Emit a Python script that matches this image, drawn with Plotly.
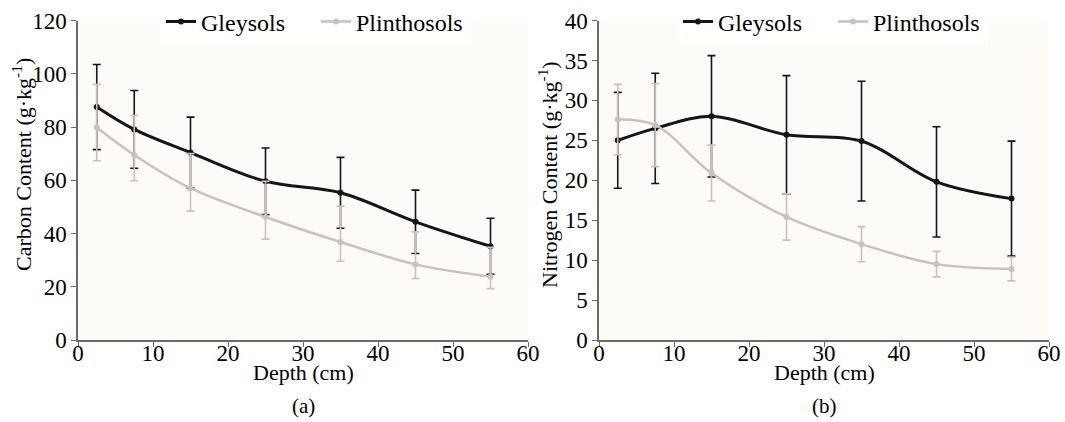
import plotly.graph_objects as go

# ---------------- data ----------------
depth = [2.5, 7.5, 15, 25, 35, 45, 55]

carbon_gleysols = [87.5, 79.1, 70.4, 59.6, 55.3, 44.4, 35.2]
carbon_gleysols_err = [16.0, 14.6, 13.3, 12.5, 13.3, 11.9, 10.5]
carbon_plinthosols = [79.8, 69.5, 57.0, 46.2, 36.8, 28.4, 23.8]
carbon_plinthosols_err_plus = [16.2, 14.8, 13.0, 13.4, 13.5, 12.2, 11.0]
carbon_plinthosols_err_minus = [12.5, 9.7, 8.6, 8.3, 7.2, 5.3, 4.5]

nitrogen_gleysols = [25.0, 26.5, 28.0, 25.7, 24.9, 19.8, 17.7]
nitrogen_gleysols_err = [6.0, 6.9, 7.6, 7.4, 7.5, 6.9, 7.2]
nitrogen_plinthosols = [27.6, 26.9, 20.9, 15.4, 12.0, 9.5, 8.9]
nitrogen_plinthosols_err = [4.4, 5.2, 3.5, 2.9, 2.2, 1.6, 1.5]

series_names = ["Gleysols", "Plinthosols"]
panel_labels = ["(a)", "(b)"]
x_title = "Depth (cm)"
y_titles = ["Carbon Content (g·kg<sup>-1</sup>)", "Nitrogen Content (g·kg<sup>-1</sup>)"]

# ---------------- style ----------------
W, H = 1065, 422
BLACK = "#151515"
GRAY = "#c9c1bc"
FONT = "Liberation Serif"
PLOT_BG = "#fcfbf8"
AXIS_COL = "#6b6b6b"

def px_x(p):
    return p / W

def px_y(p):
    return 1 - p / H

fig = go.Figure()

def add_series(x, y, err_plus, err_minus, name, color, lw, xa, ya, legend):
    fig.add_trace(go.Scatter(
        x=x, y=y, name=name, mode="lines+markers",
        line=dict(color=color, width=lw, shape="spline", smoothing=1.0),
        marker=dict(color=color, size=6, symbol="circle"),
        error_y=dict(type="data", symmetric=False, array=err_plus, arrayminus=err_minus,
                     color=color, thickness=1.6, width=4),
        xaxis=xa, yaxis=ya, legend=legend,
    ))

# panel (a)
add_series(depth, carbon_gleysols, carbon_gleysols_err, carbon_gleysols_err,
           series_names[0], BLACK, 3, "x", "y", "legend")
add_series(depth, carbon_plinthosols, carbon_plinthosols_err_plus, carbon_plinthosols_err_minus,
           series_names[1], GRAY, 2.5, "x", "y", "legend")
# panel (b)
add_series(depth, nitrogen_gleysols, nitrogen_gleysols_err, nitrogen_gleysols_err,
           series_names[0], BLACK, 3, "x2", "y2", "legend2")
add_series(depth, nitrogen_plinthosols, nitrogen_plinthosols_err, nitrogen_plinthosols_err,
           series_names[1], GRAY, 2.5, "x2", "y2", "legend2")

tickfont = dict(family=FONT, size=23, color="#000000")
common_x = dict(range=[0, 60], dtick=10, tick0=0, showgrid=False, zeroline=False,
                showline=True, linecolor=AXIS_COL, linewidth=1.5,
                ticks="outside", ticklen=5, tickcolor=AXIS_COL, tickwidth=1.2,
                tickfont=tickfont, fixedrange=True, automargin=False,
                ticklabelstandoff=-13)
common_y = dict(showgrid=False, zeroline=False, showline=True, linecolor=AXIS_COL,
                linewidth=1.5, ticks="outside", ticklen=5, tickcolor=AXIS_COL,
                tickwidth=1.2, tickfont=tickfont, fixedrange=True, automargin=False)

top = px_y(20.5)
bottom = px_y(340)

legend_common = dict(orientation="h", yanchor="middle", xanchor="center",
                     bgcolor="#ffffff", font=dict(family=FONT, size=24, color="#000000"),
                     itemwidth=30, tracegroupgap=0, borderwidth=0,
                     entrywidth=110, entrywidthmode="pixels")

fig.update_layout(
    width=W, height=H,
    margin=dict(l=0, r=0, t=0, b=0, autoexpand=False),
    paper_bgcolor="#ffffff",
    plot_bgcolor=PLOT_BG,
    font=dict(family=FONT, color="#000000"),
    xaxis=dict(domain=[px_x(78), px_x(528)], anchor="y", **common_x),
    yaxis=dict(domain=[bottom, top], anchor="x", range=[0, 120], dtick=20, **common_y),
    xaxis2=dict(domain=[px_x(599), px_x(1049)], anchor="y2", **common_x),
    yaxis2=dict(domain=[bottom, top], anchor="x2", range=[0, 40], dtick=5, **common_y),
    legend=dict(x=px_x(316), y=px_y(22), **legend_common),
    legend2=dict(x=px_x(833), y=px_y(22), **legend_common),
    showlegend=True,
)

# y titles (rotated)
for cx, cy, txt in [(22, 165, y_titles[0]), (548, 175, y_titles[1])]:
    fig.add_annotation(text=txt, x=px_x(cx), y=px_y(cy), xref="paper", yref="paper",
                       xanchor="center", yanchor="middle", textangle=-90, showarrow=False,
                       font=dict(family=FONT, size=22, color="#000000"))

# x titles and panel labels
for cx, lab in [((78 + 528) / 2, panel_labels[0]), ((599 + 1049) / 2, panel_labels[1])]:
    fig.add_annotation(text=x_title, x=px_x(cx), y=px_y(372), xref="paper", yref="paper",
                       xanchor="center", yanchor="middle", showarrow=False,
                       font=dict(family=FONT, size=22, color="#000000"))
    fig.add_annotation(text=lab, x=px_x(cx), y=px_y(406), xref="paper", yref="paper",
                       xanchor="center", yanchor="middle", showarrow=False,
                       font=dict(family=FONT, size=21, color="#000000"))

fig.write_html("out.html")
